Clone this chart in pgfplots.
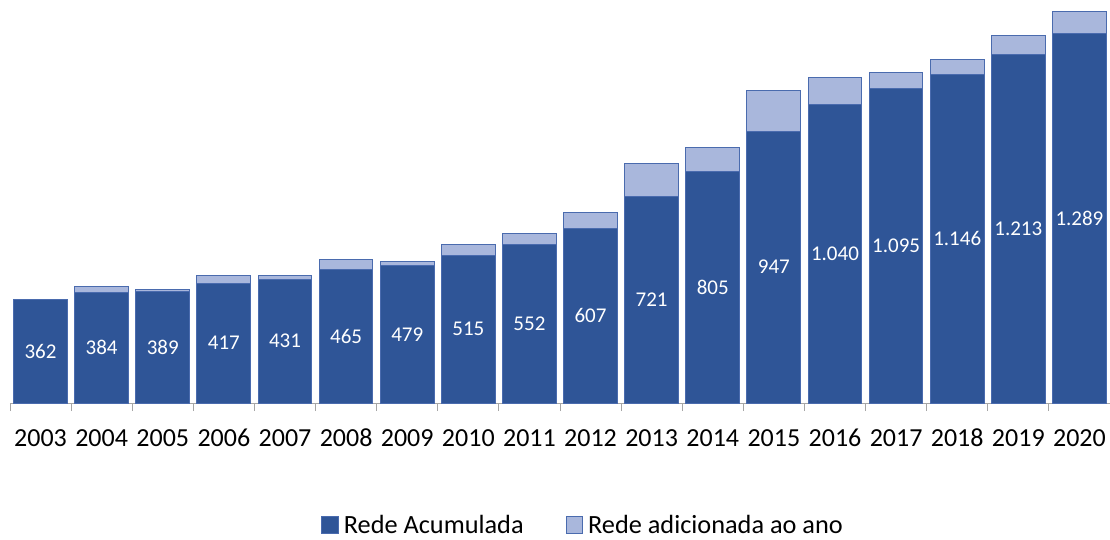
\documentclass[border=0pt]{standalone}
\usepackage{pgfplots}
\pgfplotsset{compat=1.18}
\usepackage{pgfplotstable}
\usepackage{fontspec}
\setmainfont{Carlito}
\definecolor{darkb}{HTML}{2F5597}
\definecolor{lightb}{HTML}{A9B7DC}
\definecolor{edgeb}{HTML}{4A6BAE}
\definecolor{tickg}{HTML}{A6A6A6}
\pgfplotstableread{
x year v add lab
0 2003 362 0 362
1 2004 384 22 384
2 2005 389 5 389
3 2006 417 28 417
4 2007 431 14 431
5 2008 465 34 465
6 2009 479 14 479
7 2010 515 36 515
8 2011 552 37 552
9 2012 607 55 607
10 2013 721 114 721
11 2014 805 84 805
12 2015 947 142 947
13 2016 1040 93 1.040
14 2017 1095 55 1.095
15 2018 1146 51 1.146
16 2019 1213 67 1.213
17 2020 1289 76 1.289
}\datatable
\begin{document}
\begin{tikzpicture}
\path[use as bounding box] (-10pt,-136pt) rectangle (1100pt,403pt);
\begin{axis}[
  scale only axis,
  width=1100pt, height=403pt,
  xmin=-0.5, xmax=17.5, ymin=0, ymax=1404,
  ybar stacked, bar width=0.88,
  axis x line=bottom, axis y line=none,
  x axis line style={-, tickg, line width=0.8pt},
  xtick={0,...,17},
  xticklabels={2003,2004,2005,2006,2007,2008,2009,2010,2011,2012,2013,2014,2015,2016,2017,2018,2019,2020},
  major tick length=0pt,
  minor xtick={-0.5,0.5,...,17.5},
  minor tick length=8pt,
  tick align=outside,
  minor tick style={tickg, line width=0.8pt},
  x tick label style={anchor=base, yshift=-43pt, font=\fontsize{26}{30}\selectfont, text=black},
  legend columns=2,
  legend style={draw=none, at={(0.521,-0.3027)}, anchor=center,
    font=\fontsize{26.3}{30}\selectfont,
    /tikz/every odd column/.append style={column sep=3pt},
    /tikz/every even column/.append style={column sep=40pt}},
  legend image code/.code={\draw[#1] (0pt,-8.5pt) rectangle (16.5pt,8pt);},
]
\addplot[fill=darkb, draw=edgeb, line width=1pt] table[x=x, y=v] {\datatable};
\addlegendentry{Rede Acumulada}
\addplot[fill=lightb, draw=edgeb, line width=1pt] table[x=x, y=add] {\datatable};
\addlegendentry{Rede adicionada ao ano}
\end{axis}
\begin{axis}[
  scale only axis,
  width=1100pt, height=403pt,
  xmin=-0.5, xmax=17.5, ymin=0, ymax=1404,
  hide axis,
  nodes near coords,
  point meta=explicit symbolic,
  every node near coord/.append style={anchor=center, text=white, font=\fontsize{21}{25}\selectfont},
]
\addplot[draw=none, mark=none] table[x=x, y expr=\thisrow{v}/2, meta=lab] {\datatable};
\end{axis}
\end{tikzpicture}
\end{document}
